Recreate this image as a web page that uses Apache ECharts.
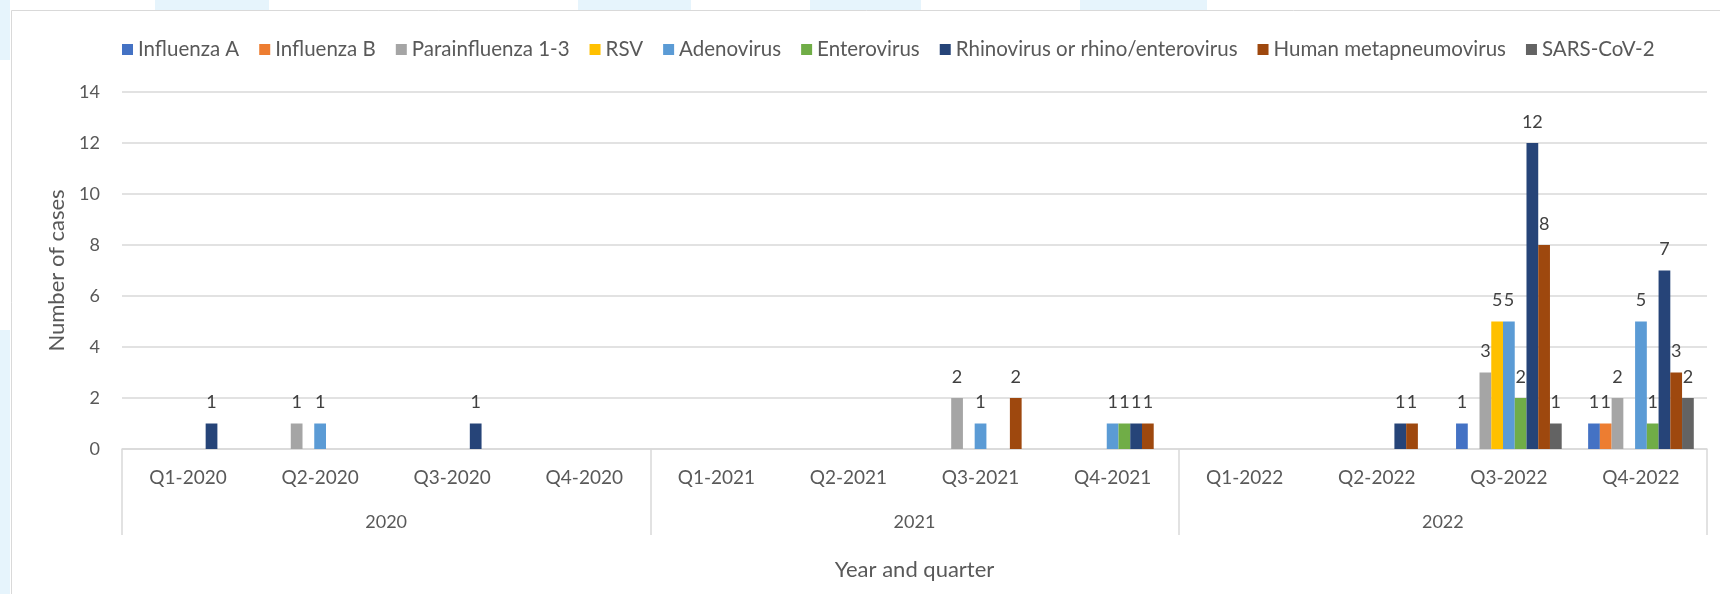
<!DOCTYPE html>
<html>
<head>
<meta charset="utf-8">
<title>Respiratory viruses by quarter</title>
<script src="https://cdn.jsdelivr.net/npm/echarts@6/dist/echarts.min.js"></script>
<style>
  html, body { margin: 0; padding: 0; background: #ffffff; }
  #chart { width: 1720px; height: 594px; }
</style>
</head>
<body>
<div id="chart"></div>
<script>
// quarters on the first axis level, years on the second
var quarters = ['Q1-2020', 'Q2-2020', 'Q3-2020', 'Q4-2020',
                'Q1-2021', 'Q2-2021', 'Q3-2021', 'Q4-2021',
                'Q1-2022', 'Q2-2022', 'Q3-2022', 'Q4-2022'];
var years = ['2020', '2021', '2022'];
var yTicks = [0, 2, 4, 6, 8, 10, 12, 14];

// null = no case that quarter (no bar, no label)
var influenzaA    = [null, null, null, null, null, null, null, null, null, null, 1, 1];
var influenzaB    = [null, null, null, null, null, null, null, null, null, null, null, 1];
var parainfluenza = [null, 1, null, null, null, null, 2, null, null, null, 3, 2];
var rsv           = [null, null, null, null, null, null, null, null, null, null, 5, null];
var adenovirus    = [null, 1, null, null, null, null, 1, 1, null, null, 5, 5];
var enterovirus   = [null, null, null, null, null, null, null, 1, null, null, 2, 1];
var rhinovirus    = [1, null, 1, null, null, null, null, 1, null, 1, 12, 7];
var hmpv          = [null, null, null, null, null, null, 2, 1, null, 1, 8, 3];
var sarsCov2      = [null, null, null, null, null, null, null, null, null, null, 1, 2];

var seriesNames = ['Influenza A', 'Influenza B', 'Parainfluenza 1-3', 'RSV', 'Adenovirus',
                   'Enterovirus', 'Rhinovirus or rhino/enterovirus', 'Human metapneumovirus', 'SARS-CoV-2'];
var seriesData = [influenzaA, influenzaB, parainfluenza, rsv, adenovirus,
                  enterovirus, rhinovirus, hmpv, sarsCov2];
var colors = ['#4472C4', '#ED7D31', '#A5A5A5', '#FFC000', '#5B9BD5',
              '#70AD47', '#264478', '#9E480E', '#636363'];

var font = 'Lato, "Open Sans", sans-serif';
var textColor = '#595959';

var chart = echarts.init(document.getElementById('chart'));

var series = seriesNames.map(function (name, i) {
    return {
        name: name,
        type: 'bar',
        xAxisIndex: 0,
        data: seriesData[i],
        barGap: '0%',
        barCategoryGap: '20%',
        label: {
            show: true,
            position: 'top',
            distance: 12,
            color: '#404040',
            fontFamily: font,
            fontSize: 18
        }
    };
});

var option = {
    color: colors,
    animation: false,
    backgroundColor: '#ffffff',
    textStyle: { fontFamily: font },
    graphic: [
        // light blue page shapes peeking out around the chart box
        { type: 'rect', shape: { x: 155, y: 0, width: 114, height: 10 }, style: { fill: '#e6f4fc' }, z: -1 },
        { type: 'rect', shape: { x: 578, y: 0, width: 113, height: 10 }, style: { fill: '#e6f4fc' }, z: -1 },
        { type: 'rect', shape: { x: 810, y: 0, width: 111, height: 10 }, style: { fill: '#e6f4fc' }, z: -1 },
        { type: 'rect', shape: { x: 1080, y: 0, width: 127, height: 10 }, style: { fill: '#e6f4fc' }, z: -1 },
        { type: 'rect', shape: { x: 0, y: 0, width: 10, height: 60 }, style: { fill: '#e6f4fc' }, z: -1 },
        { type: 'rect', shape: { x: 0, y: 330, width: 10, height: 264 }, style: { fill: '#e6f4fc' }, z: -1 },
        // chart box border
        { type: 'rect', shape: { x: 11.5, y: 10.5, width: 1720, height: 600 },
          style: { fill: null, stroke: '#d9d9d9', lineWidth: 1 }, z: -1 }
    ],
    legend: {
        left: 117,
        top: 34,
        itemWidth: 11,
        itemHeight: 11,
        itemGap: 20,
        icon: 'rect',
        textStyle: { color: textColor, fontFamily: font, fontSize: 20.5 },
        data: seriesNames
    },
    grid: {
        left: 122,
        right: 13,
        top: 92,
        bottom: 145
    },
    xAxis: [{
        type: 'category',
        data: quarters,
        axisLine: { lineStyle: { color: '#d9d9d9', width: 1.5 } },
        axisTick: { show: false },
        axisLabel: { color: textColor, fontSize: 19, margin: 19, interval: 0, fontFamily: font }
    }, {
        type: 'category',
        data: years,
        position: 'bottom',
        axisLine: { show: false },
        axisTick: { show: true, length: 86, interval: 0, lineStyle: { color: '#d9d9d9', width: 1.5 } },
        axisLabel: { color: textColor, fontSize: 18, margin: 64, interval: 0, fontFamily: font },
        name: 'Year and quarter',
        nameLocation: 'middle',
        nameGap: 110,
        nameTextStyle: { color: textColor, fontSize: 22, fontFamily: font }
    }],
    yAxis: {
        type: 'value',
        min: yTicks[0],
        max: yTicks[yTicks.length - 1],
        interval: 2,
        axisLine: { show: false },
        axisTick: { show: false },
        splitLine: { lineStyle: { color: '#d9d9d9', width: 1.5 } },
        axisLabel: { color: textColor, fontSize: 18, margin: 22, fontFamily: font },
        name: 'Number of cases',
        nameLocation: 'middle',
        nameGap: 52,
        nameTextStyle: { color: textColor, fontSize: 22, fontFamily: font }
    },
    series: series
};

chart.setOption(option);
</script>
</body>
</html>
